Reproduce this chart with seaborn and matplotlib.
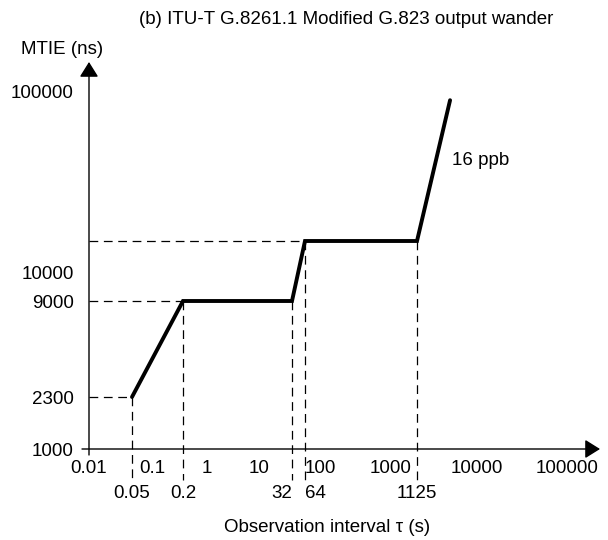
import numpy as np
import matplotlib
matplotlib.use("Agg")
import matplotlib.pyplot as plt
import seaborn as sns

# MTIE mask corner points (tau in s, MTIE in ns)
tau = [0.05, 0.2, 32, 64, 1125, 3750]
mtie = [2300, 9000, 9000, 18000, 18000, 90000]

x_decades = [0.01, 0.1, 1, 10, 100, 1000, 10000, 100000]
x_decade_labels = ["0.01", "0.1", "1", "10", "100", "1000", "10000", "100000"]
x_marks = [0.05, 0.2, 32, 64, 1125]
x_mark_labels = ["0.05", "0.2", "32", "64", "1125"]
y_ticks = [1000, 2300, 9000, 10000, 100000]
y_tick_labels = ["1000", "2300", "9000", "10000", "100000"]

# the drawing uses a schematic (non-uniform) log axis:
# anchor value -> pixel position
x_anchor_vals = [0.01, 0.05, 0.1, 0.2, 1, 10, 32, 64, 100, 1000, 1125, 10000, 100000, 1e6]
x_anchor_pos = [89, 132, 152, 183, 207, 259, 292, 305, 320, 391, 417, 477, 567, 657]
y_anchor_vals = [100, 1000, 2300, 9000, 10000, 18000, 100000, 1e6]
y_anchor_pos = [0, 91, 143, 239, 268, 299, 449, 630]


def make_scale(vals, pos):
    lv = np.log10(vals)
    fwd = lambda v: np.interp(np.log10(np.clip(v, 1e-12, None)), lv, pos)
    inv = lambda p: 10 ** np.interp(p, pos, lv)
    return fwd, inv


xf, xi = make_scale(x_anchor_vals, x_anchor_pos)
yf, yi = make_scale(y_anchor_vals, y_anchor_pos)

sns.set_theme(style="white")
plt.rcParams["font.family"] = ["Liberation Sans", "DejaVu Sans"]
plt.rcParams["text.color"] = "black"
FS = 13.5

fig = plt.figure(figsize=(6.08, 5.4), dpi=100)
ax = fig.add_axes([89 / 608, 91 / 540, 511 / 608, 387 / 540])
ax.set_xscale("function", functions=(xf, xi))
ax.set_yscale("function", functions=(yf, yi))
ax.set_xlim(xi(89), xi(600))
ax.set_ylim(yi(91), yi(478))

# dashed guides
dash = dict(color="black", lw=0.9, ls=(0, (7, 4.5)), clip_on=False)
bottom = yi(60)
for t, m in [(0.05, 2300), (0.2, 9000), (32, 9000), (64, 18000), (1125, 18000)]:
    ax.plot([t, t], [m, bottom], **dash)
for t, m in [(0.05, 2300), (0.2, 9000), (64, 18000)]:
    ax.plot([xi(89), t], [m, m], **dash)

# mask
sns.lineplot(x=tau, y=mtie, ax=ax, color="black", lw=2.8, sort=False,
             estimator=None, solid_joinstyle="miter")

ax.text(xi(452), yi(540 - 160), "16 ppb", fontsize=FS, ha="left", va="center")

# axes with arrows
for s in ax.spines.values():
    s.set_visible(False)
arrow = dict(arrowstyle="-|>,head_length=0.4,head_width=0.25", mutation_scale=23,
             lw=1, color="black", shrinkA=0, shrinkB=0)
ax.annotate("", xy=(1, 0), xytext=(-7 / 511, 0), xycoords="axes fraction",
            arrowprops=arrow, annotation_clip=False)
ax.annotate("", xy=(0, 1), xytext=(0, -6 / 387), xycoords="axes fraction",
            arrowprops=arrow, annotation_clip=False)

ax.set_xticks(x_decades, x_decade_labels, fontsize=FS)
ax.set_xticks(x_marks, x_mark_labels, minor=True, fontsize=FS)
ax.set_yticks(y_ticks, y_tick_labels, fontsize=FS)
ax.set_yticks([], minor=True)
ax.tick_params(axis="x", which="major", length=0, pad=8, colors="black")
ax.tick_params(axis="x", which="minor", length=0, pad=26, colors="black")
ax.tick_params(axis="y", length=0, pad=11, colors="black")
minor_labels = ax.get_xticklabels(minor=True)
minor_labels[2].set_ha("right")
minor_labels[3].set_ha("left")
ax.grid(False)

fig.text(346 / 608, 1 - 20 / 540, "(b) ITU-T G.8261.1 Modified G.823 output wander",
         fontsize=FS, ha="center", va="center")
fig.text(62 / 608, 1 - 50 / 540, "MTIE (ns)", fontsize=FS, ha="center", va="center")
fig.text(327 / 608, 1 - 528 / 540, "Observation interval \u03c4 (s)", fontsize=FS,
         ha="center", va="center")

fig.savefig("out.png", dpi=100)
